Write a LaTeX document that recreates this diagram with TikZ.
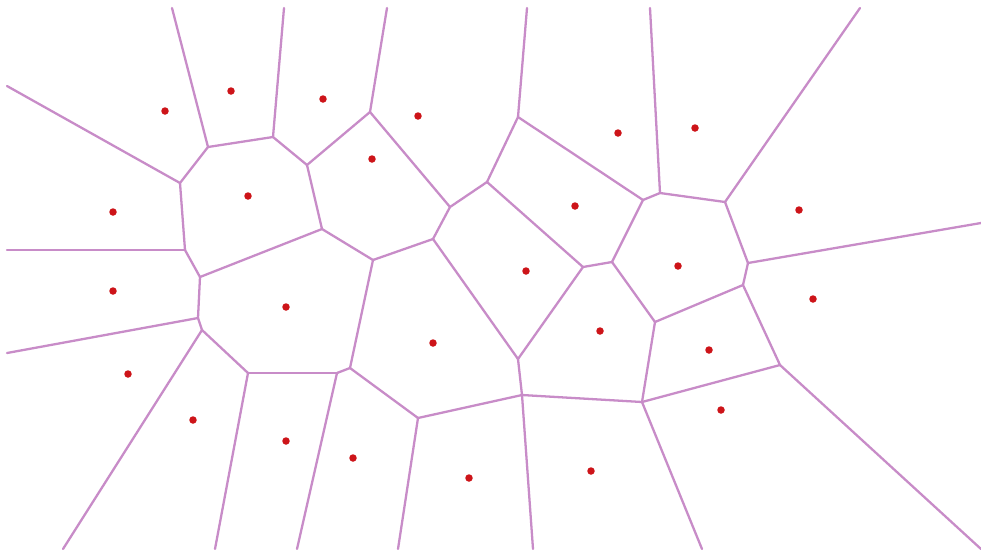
\documentclass[tikz,border=0pt]{standalone}
\definecolor{edgecol}{RGB}{200,140,200}
\definecolor{sitecol}{RGB}{205,20,25}
\tikzset{
  vedge/.style={draw=edgecol, line width=1.3pt, line cap=round, line join=round},
  site/.style={circle, fill=sitecol, inner sep=0pt, minimum size=0.15cm}
}
\begin{document}
\begin{tikzpicture}[x=0.02cm,y=-0.02cm]
\fill[white] (0,0) rectangle (981,549);
\useasboundingbox (0,0) rectangle (981,549);
% inner vertices
\coordinate (A) at (208,147);
\coordinate (B) at (273,137);
\coordinate (C) at (180,183);
\coordinate (D) at (185,250);
\coordinate (E) at (307,165);
\coordinate (F) at (370,112);
\coordinate (G) at (322,229);
\coordinate (H) at (200,277);
\coordinate (I) at (450,207);
\coordinate (J) at (373,260);
\coordinate (K) at (433,239);
\coordinate (L) at (487,182);
\coordinate (M) at (518,117);
\coordinate (N) at (643,200);
\coordinate (O) at (660,193);
\coordinate (P) at (725,202);
\coordinate (Q) at (748,263);
\coordinate (R) at (612,262);
\coordinate (S) at (583,267);
\coordinate (T) at (198,318);
\coordinate (U) at (202,330);
\coordinate (V) at (248,373);
\coordinate (W) at (337,373);
\coordinate (X) at (350,368);
\coordinate (Y) at (418,418);
\coordinate (Z1) at (518,359);
\coordinate (Z2) at (522,395);
\coordinate (Z3) at (642,402);
\coordinate (Z4) at (655,322);
\coordinate (Z5) at (743,285);
\coordinate (Z6) at (780,365);
% boundary ends
\coordinate (tA) at (172,8);
\coordinate (tB) at (284,8);
\coordinate (tF) at (387,8);
\coordinate (tM) at (527,8);
\coordinate (tO) at (650,8);
\coordinate (tP) at (860,8);
\coordinate (lC) at (7,86);
\coordinate (lD) at (7,250);
\coordinate (lT) at (7,353);
\coordinate (rQ) at (981,223);
\coordinate (bU) at (63,549);
\coordinate (bV) at (215,549);
\coordinate (bW) at (297,549);
\coordinate (bY) at (398,549);
\coordinate (bZ2) at (533,549);
\coordinate (bZ3) at (702,549);
\coordinate (bZ6) at (981,549);
% edges
\foreach \a/\b in {tA/A, A/B, tB/B, A/C, lC/C, C/D, lD/D, D/H, B/E, tF/F, F/E, E/G, G/H, G/J,
  F/I, I/K, I/L, J/K, K/Z1, tM/M, M/L, M/N, tO/O, N/O, O/P, tP/P, P/Q, Q/rQ, N/R, L/S, S/R,
  R/Z4, S/Z1, Z1/Z2, Z2/Y, Z2/Z3, Z2/bZ2, Z3/Z4, Z4/Z5, Q/Z5, Z5/Z6, Z3/Z6, Z6/bZ6, Z3/bZ3,
  H/T, lT/T, T/U, U/bU, U/V, V/W, V/bV, W/X, X/J, W/bW, X/Y, Y/bY}
  \draw[vedge] (\a) -- (\b);
% sites
\foreach \x/\y [count=\i] in {165/111, 231/91, 323/99, 418/116, 372/159, 248/196, 113/212,
  113/291, 286/307, 128/374, 193/420, 286/441, 353/458, 433/343, 469/478, 526/271, 575/206,
  618/133, 695/128, 799/210, 678/266, 813/299, 600/331, 709/350, 721/410, 591/471}
  \node[site] (s\i) at (\x,\y) {};
\end{tikzpicture}
\end{document}
